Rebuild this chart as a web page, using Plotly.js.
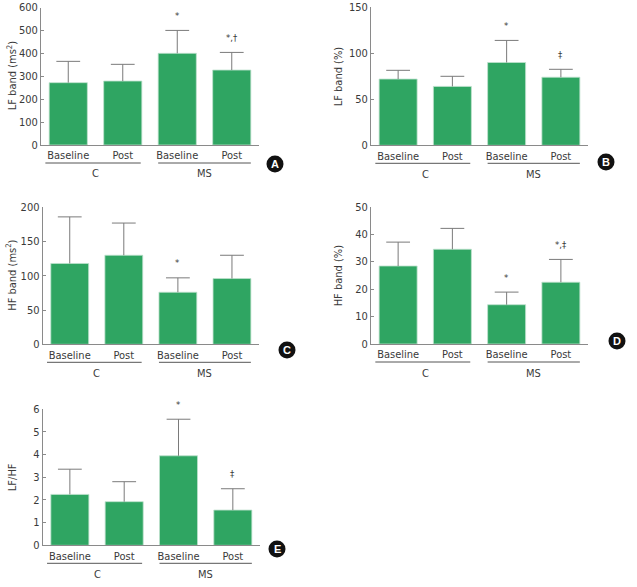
<!DOCTYPE html>
<html>
<head>
<meta charset="utf-8">
<script src="https://cdn.plot.ly/plotly-3.0.1.min.js"></script>
<style>html,body{margin:0;padding:0;background:#fff;}#chart{width:637px;height:587px;}</style>
</head>
<body>
<div id="chart"></div>
<script>
// ---- data ----
var categories = ['C-Baseline', 'C-Post', 'MS-Baseline', 'MS-Post'];
var tickLabels = ['Baseline', 'Post', 'Baseline', 'Post'];
var groupNames = ['C', 'MS'];
var panelLetters = ['A', 'B', 'C', 'D', 'E'];
var yTitles = ['LF band (ms<sup>2</sup>)', 'LF band (%)', 'HF band (ms<sup>2</sup>)', 'HF band (%)', 'LF/HF'];

var lfMs2 = [272, 279, 400, 327];
var lfMs2Sd = [93, 73, 100, 77];
var lfPct = [72, 64, 90, 74];
var lfPctSd = [9.5, 11, 24, 8.6];
var hfMs2 = [118, 130, 76, 96];
var hfMs2Sd = [68, 47, 21, 34];
var hfPct = [28.4, 34.5, 14.3, 22.5];
var hfPctSd = [8.7, 7.6, 4.6, 8.3];
var lfhf = [2.24, 1.92, 3.94, 1.55];
var lfhfSd = [1.11, 0.88, 1.61, 0.94];

var sigA = ['', '', '*', '*,\u2020'];
var sigB = ['', '', '*', '\u2021'];
var sigC = ['', '', '*', ''];
var sigD = ['', '', '*', '*,\u2021'];
var sigE = ['', '', '*', '\u2021'];

var yMax = [600, 150, 200, 50, 6];
var yStep = [100, 50, 50, 10, 1];

// ---- layout geometry ----
var W = 637, H = 587;
var FONT = '"Liberation Sans Narrow", "DejaVu Sans Condensed", Arial, sans-serif';
var green = '#2fa562';
var axisCol = '#8a8a8a';
var errCol = '#7a7a7a';
var txtCol = '#3a3a3a';

var panels = [
  {vals: lfMs2, sd: lfMs2Sd, sig: sigA, x0: 41, x1: 259, yt: 7.5, yb: 145, circ: [275, 164], tx: 12},
  {vals: lfPct, sd: lfPctSd, sig: sigB, x0: 371, x1: 588, yt: 7.3, yb: 145.3, circ: [606, 162], tx: 338},
  {vals: hfMs2, sd: hfMs2Sd, sig: sigC, x0: 42.7, x1: 259, yt: 207.3, yb: 344.3, circ: [287, 350], tx: 12},
  {vals: hfPct, sd: hfPctSd, sig: sigD, x0: 371, x1: 588, yt: 206.7, yb: 344, circ: [617, 341], tx: 338},
  {vals: lfhf, sd: lfhfSd, sig: sigE, x0: 42.7, x1: 260, yt: 409, yb: 545.3, circ: [277, 549], tx: 12}
];

var data = [];
var layout = {
  width: W, height: H,
  margin: {l: 0, r: 0, t: 0, b: 0},
  paper_bgcolor: '#fff', plot_bgcolor: '#fff',
  showlegend: false,
  bargap: 0.3,
  font: {family: FONT, size: 10.5, color: txtCol},
  annotations: [], shapes: []
};

panels.forEach(function (p, i) {
  var n = i === 0 ? '' : String(i + 1);
  var xa = 'x' + n, ya = 'y' + n;
  var tops = p.vals.map(function (v, k) { return v + p.sd[k]; });
  // bars with upper whisker (no caps)
  data.push({
    type: 'bar', x: categories, y: p.vals, xaxis: xa, yaxis: ya,
    marker: {color: green, line: {color: 'rgba(190,225,205,0.8)', width: 1}},
    error_y: {type: 'data', symmetric: false, array: p.sd, arrayminus: p.vals.map(function () { return 0; }),
              color: errCol, thickness: 1, width: 0},
    hoverinfo: 'none'
  });
  // caps at the top of the whiskers
  data.push({
    type: 'scatter', mode: 'markers', x: categories, y: tops, xaxis: xa, yaxis: ya,
    marker: {symbol: 'line-ew', size: 17, color: errCol, line: {color: errCol, width: 1}},
    hoverinfo: 'none', cliponaxis: false
  });
  layout['xaxis' + n] = {
    domain: [p.x0 / W, p.x1 / W], anchor: ya, type: 'category',
    range: [-0.5, 3.5], tickvals: categories, ticktext: tickLabels,
    showline: true, linecolor: axisCol, linewidth: 1, ticks: '', showgrid: false,
    zeroline: false, tickfont: {size: 11, color: txtCol, family: FONT}, fixedrange: true
  };
  layout['yaxis' + n] = {
    domain: [1 - p.yb / H, 1 - p.yt / H], anchor: xa,
    range: [0, yMax[i]], dtick: yStep[i], tick0: 0,
    showline: true, linecolor: axisCol, linewidth: 1, ticks: 'inside', ticklen: 3, tickcolor: axisCol,
    showgrid: false, zeroline: false, tickfont: {size: 11, color: txtCol, family: FONT},
    fixedrange: true
  };
  // y axis title as rotated annotation
  layout.annotations.push({
    xref: 'paper', yref: ya + ' domain', x: p.tx / W, y: 0.5, xanchor: 'center', yanchor: 'middle',
    text: yTitles[i], textangle: -90, showarrow: false,
    font: {size: 11, color: txtCol, family: FONT}
  });
  // significance markers
  p.sig.forEach(function (s, k) {
    if (!s) return;
    layout.annotations.push({
      xref: xa, yref: ya, x: categories[k], y: tops[k],
      text: s, showarrow: false, yanchor: 'middle', yshift: 15,
      font: {size: 9.5, color: txtCol, family: FONT}
    });
  });
  // group lines and labels
  var spans = [[-0.42, 1.33], [1.65, 3.35]];
  spans.forEach(function (sp, g) {
    layout.shapes.push({
      type: 'line', xref: xa, yref: ya + ' domain', x0: sp[0], x1: sp[1],
      ysizemode: 'pixel', yanchor: 0, y0: -18, y1: -18,
      line: {color: '#555', width: 1}
    });
    layout.annotations.push({
      xref: xa, yref: ya + ' domain', x: 2 * g + 0.5, y: 0, yshift: -29,
      text: groupNames[g], showarrow: false, yanchor: 'middle',
      font: {size: 11, color: txtCol, family: FONT}
    });
  });
  // panel letter circle
  var cx = p.circ[0], cy = p.circ[1], r = 8.5;
  layout.shapes.push({
    type: 'circle', xref: 'paper', yref: 'paper',
    x0: (cx - r) / W, x1: (cx + r) / W, y0: 1 - (cy + r) / H, y1: 1 - (cy - r) / H,
    fillcolor: '#111', line: {color: '#111', width: 0}
  });
  layout.annotations.push({
    xref: 'paper', yref: 'paper', x: cx / W, y: 1 - cy / H, xanchor: 'center', yanchor: 'middle',
    text: '<b>' + panelLetters[i] + '</b>', showarrow: false,
    font: {size: 11, color: '#fff', family: 'Liberation Sans, Arial, sans-serif'}
  });
});

Plotly.newPlot('chart', data, layout, {staticPlot: true, displayModeBar: false});
</script>
</body>
</html>
